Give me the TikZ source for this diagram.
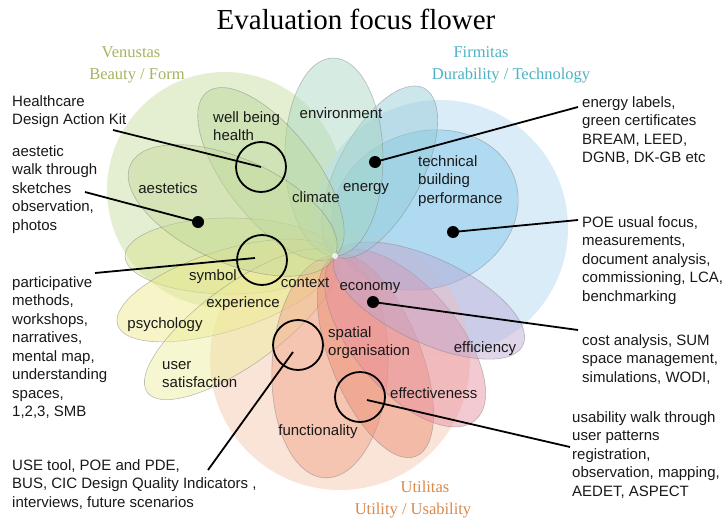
\documentclass[tikz,border=0pt]{standalone}
\usepackage{fontspec}
\newfontfamily\labfont{Liberation Sans}
\newfontfamily\ttlfont{Liberation Serif}
\usetikzlibrary{calc}
\definecolor{bgGreen}{HTML}{E2EECC}
\definecolor{bgBlue}{HTML}{D6EAF8}
\definecolor{bgOrange}{HTML}{FADFD0}
\definecolor{pAest}{HTML}{C2D99A}
\definecolor{pWell}{HTML}{BBD79A}
\definecolor{pEnv}{HTML}{A8D8C4}
\definecolor{pEnergy}{HTML}{94CCD8}
\definecolor{pTech}{HTML}{9ED3F0}
\definecolor{pEff}{HTML}{BCA8D4}
\definecolor{pPink}{HTML}{E890A0}
\definecolor{pSpat}{HTML}{EC8C74}
\definecolor{pFunc}{HTML}{F0A488}
\definecolor{pUser}{HTML}{ECEE9C}
\definecolor{pPsy}{HTML}{EEEA8C}
\definecolor{pSym}{HTML}{D8E490}
\definecolor{cVen}{HTML}{A5B560}
\definecolor{cFir}{HTML}{4DB3C4}
\definecolor{cUti}{HTML}{D98A4E}
\newcommand\flowerpetal[4]{%
  \begin{scope}[shift={(C)}, rotate=#2]
    \filldraw[petal, fill=#1] (#3pt,0pt) ellipse [x radius=#3pt, y radius=#4pt];
  \end{scope}}
\begin{document}
\begin{tikzpicture}[x=1pt,y=-1pt,
  petal/.style={draw=black!50, draw opacity=0.5, line width=0.6pt, fill opacity=0.47},
  lab/.style={font=\labfont\fontsize{15}{18.5}\selectfont, inner sep=0pt, align=left, text=black!90},
  grp/.style={font=\ttlfont\fontsize{16.5}{18}\selectfont, inner sep=0pt},
  ring/.style={circle, draw=black, line width=1.8pt, minimum size=50pt, inner sep=0pt},
  dot/.style={circle, fill=black, minimum size=12pt, inner sep=0pt},
  conn/.style={draw=black, line width=1.8pt}]
\useasboundingbox (0,0) rectangle (725,519);
\fill[white] (0,0) rectangle (725,519);
\coordinate (C) at (335,256);

% background circles
\fill[bgGreen, opacity=0.9] (225,190) circle [radius=118pt];
\fill[bgBlue, opacity=0.9] (440,228) circle [radius=128pt];
\fill[bgOrange, opacity=0.85] (340,360) circle [radius=130pt];

% tbp ellipse
\begin{scope}[shift={(425,210)}, rotate=20]
  \filldraw[petal, fill=pTech, fill opacity=0.7] (0pt,0pt) ellipse [x radius=95pt, y radius=78pt];
\end{scope}

% petals
\flowerpetal{pSym}{180}{105}{38}
\flowerpetal{pPsy}{-162.4}{114}{40}
\flowerpetal{pUser}{-144}{116}{40}
\flowerpetal{pFunc}{-92.6}{111}{58}
\flowerpetal{pSpat}{-68}{108}{45}
\flowerpetal{pPink}{-49.5}{108}{52}
\flowerpetal{pEff}{-25.4}{104}{42}
\flowerpetal{pEnergy}{62}{95}{42}
\flowerpetal{pEnv}{90.6}{99}{49}
\flowerpetal{pWell}{128}{104}{45}
\flowerpetal{pAest}{156}{112}{52}

\fill[white, opacity=0.8] (C) circle [radius=3pt];

% title and group labels
\node[font=\ttlfont\fontsize{29}{32}\selectfont, inner sep=0pt, anchor=base] (title) at (356,30) {Evaluation focus flower};
\node[grp, text=cVen, anchor=base] (ven1) at (131,57) {Venustas};
\node[grp, text=cVen, anchor=base] (ven2) at (137,79) {Beauty / Form};
\node[grp, text=cFir, anchor=base] (fir1) at (481,57) {Firmitas};
\node[grp, text=cFir, anchor=base] (fir2) at (511,79) {Durability / Technology};
\node[grp, text=cUti, anchor=base] (uti1) at (425,492) {Utilitas};
\node[grp, text=cUti, anchor=base] (uti2) at (413,514) {Utility / Usability};

% petal labels
\node[lab, anchor=north west] (wb) at (213,111) {well being\\health};
\node[lab, anchor=base] (env) at (341,118) {environment};
\node[lab, anchor=base] (aes) at (168,193) {aestetics};
\node[lab, anchor=base] (cli) at (316,202) {climate};
\node[lab, anchor=base] (ene) at (366,191) {energy};
\node[lab, anchor=north west] (tbp) at (418,155) {technical\\building\\performance};
\node[lab, anchor=base] (sym) at (213,280) {symbol};
\node[lab, anchor=base] (ctx) at (305,287) {context};
\node[lab, anchor=base] (eco) at (370,290) {economy};
\node[lab, anchor=base] (exp) at (243,307) {experience};
\node[lab, anchor=base] (psy) at (165,328) {psychology};
\node[lab, anchor=north west] (spa) at (328,326) {spatial\\organisation};
\node[lab, anchor=north west] (usr) at (162,361) {user\\satisfaction};
\node[lab, anchor=base] (effi) at (485,352) {efficiency};
\node[lab, anchor=base west] (efft) at (390,398) {effectiveness};
\node[lab, anchor=base] (fun) at (318,435) {functionality};

% method texts
\node[lab, anchor=north west] (t1) at (12,95) {Healthcare\\Design Action Kit};
\node[lab, anchor=north west] (t2) at (12,145) {aestetic\\walk through\\sketches\\observation,\\photos};
\node[lab, anchor=north west] (t3) at (12,276) {participative\\methods,\\workshops,\\narratives,\\mental map,\\understanding\\spaces,\\1,2,3, SMB};
\node[lab, anchor=north west] (t4) at (12,459) {USE tool, POE and PDE,\\BUS, CIC Design Quality Indicators ,\\interviews, future scenarios};
\node[lab, anchor=north west] (t5) at (582,96) {energy labels,\\green certificates\\BREAM, LEED,\\DGNB, DK-GB etc};
\node[lab, anchor=north west] (t6) at (582,216) {POE usual focus,\\measurements,\\document analysis,\\commissioning, LCA,\\benchmarking};
\node[lab, anchor=north west] (t7) at (582,334) {cost analysis, SUM\\space management,\\simulations, WODI,};
\node[lab, anchor=north west] (t8) at (572,411) {usability walk through\\user patterns\\registration,\\observation, mapping,\\AEDET, ASPECT};

% rings and dots
\node[ring] (r1) at (261,167) {};
\node[ring] (r2) at (262,260) {};
\node[ring] (r3) at (298,345) {};
\node[ring] (r4) at (360,397) {};
\node[dot] (d1) at (198,222) {};
\node[dot] (d2) at (375,162) {};
\node[dot] (d3) at (453,232) {};
\node[dot] (d4) at (373,302) {};

% connector ends
\coordinate (s1) at (113,130);
\coordinate (s2) at (85,192);
\coordinate (s3) at (95,273);
\coordinate (e3) at (255,258);
\coordinate (s4) at (208,470);
\coordinate (e4) at (293,352);
\coordinate (s5) at (578,107);
\coordinate (s6) at (578,220);
\coordinate (s7) at (578,330);
\coordinate (e8) at (367,400);
\coordinate (s8) at (570,447);

\draw[conn] (s1) -- (r1.center);
\draw[conn] (s2) -- (d1.center);
\draw[conn] (s3) -- (e3);
\draw[conn] (s4) -- (e4);
\draw[conn] (d2.center) -- (s5);
\draw[conn] (d3.center) -- (s6);
\draw[conn] (d4.center) -- (s7);
\draw[conn] (e8) -- (s8);
\end{tikzpicture}
\end{document}
